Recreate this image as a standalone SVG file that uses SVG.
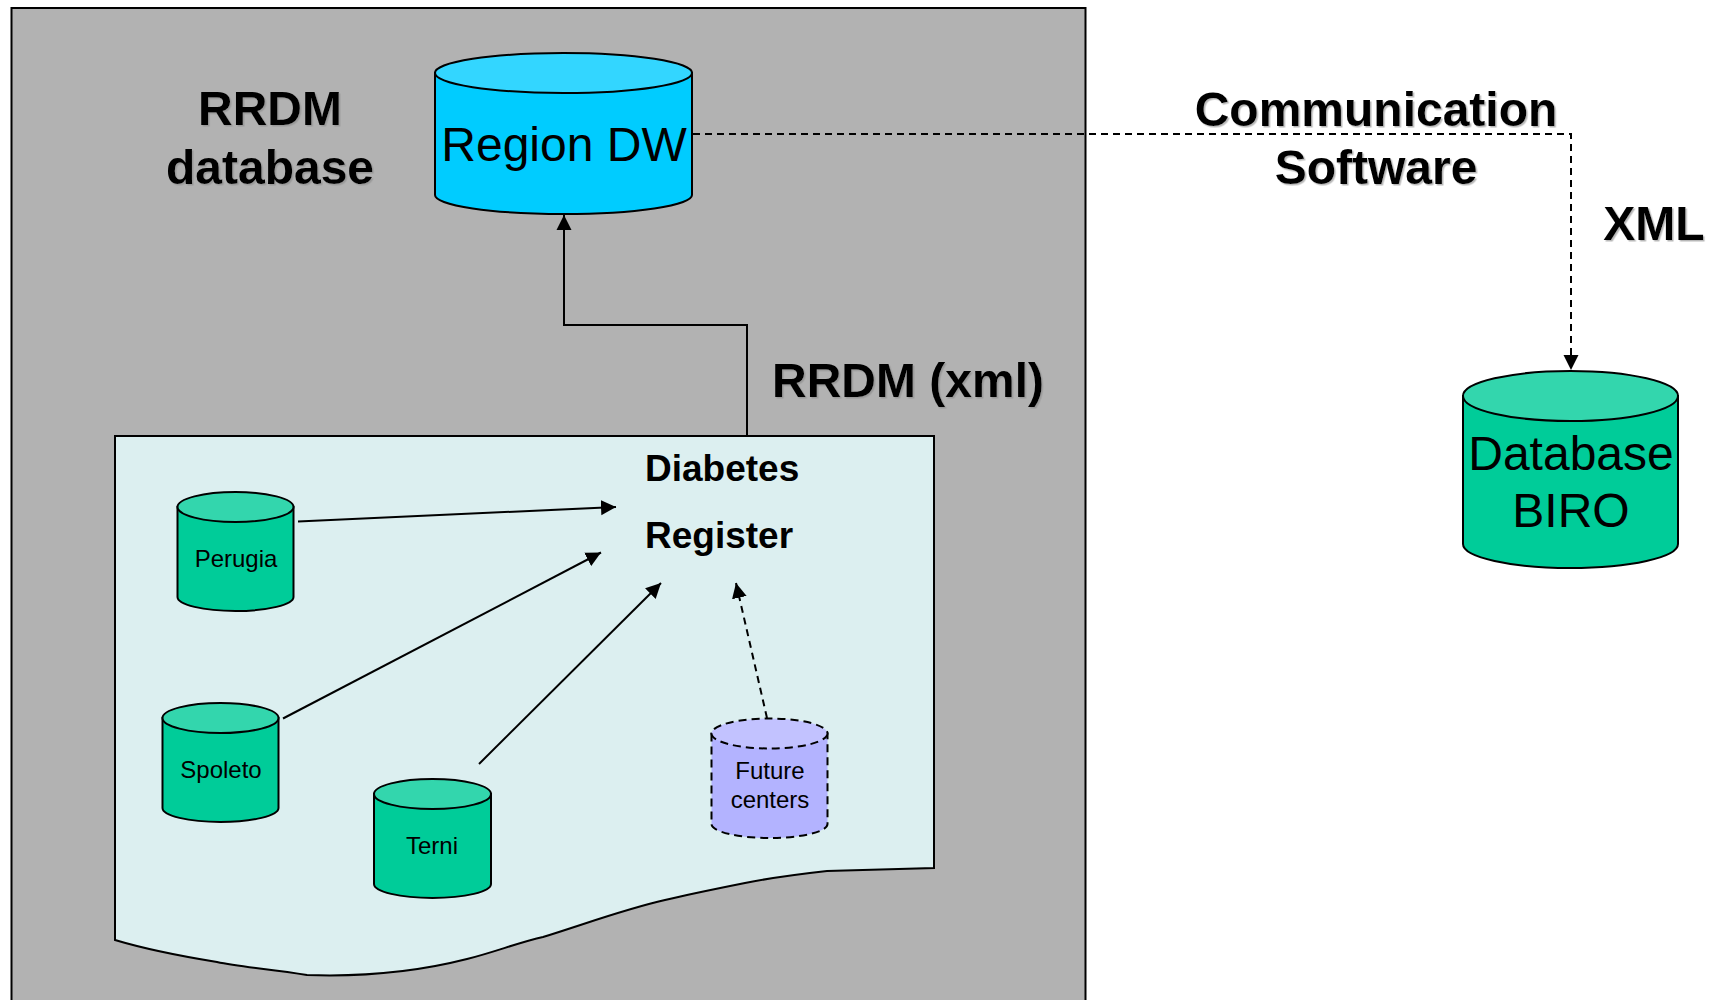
<svg xmlns="http://www.w3.org/2000/svg" width="1713" height="1000" viewBox="0 0 1713 1000">
<style>
text{font-family:"Liberation Sans",Arial,sans-serif;fill:#000;text-anchor:middle}
.h{font-weight:bold;font-size:48px;filter:url(#sh)}
.b{font-size:48px}
.s{font-size:24px}
.r{font-weight:bold;font-size:37px;text-anchor:start}
.body,.top{stroke:#000;stroke-width:2}
.g .body{fill:#00cc99}.g .top{fill:#33d6ad}
.c .body{fill:#00ccff}.c .top{fill:#33d6ff}
.p .body{fill:#b3b3ff;stroke-dasharray:8 5}.p .top{fill:#c2c2ff;stroke-dasharray:8 5}
.con{fill:none;stroke:#000;stroke-width:2;marker-end:url(#a)}
.d{stroke-dasharray:7 5}
</style>
<defs>
<filter id="sh" x="-5%" y="-5%" width="110%" height="115%"><feDropShadow dx="1.5" dy="1.5" stdDeviation="0.4" flood-color="#888" flood-opacity="0.6"/></filter>
<marker id="a" markerUnits="userSpaceOnUse" markerWidth="16" markerHeight="16" refX="15" refY="8" orient="auto"><path d="M0,0.5L15,8L0,15.5Z" fill="#000"/></marker>
</defs>
<rect width="1713" height="1000" fill="#fff"/>
<g id="rrdm-area"><rect x="11.500" y="8" width="1074" height="1010" fill="#b2b2b2" stroke="#000" stroke-width="2"/></g>
<g id="register">
<path d="M115,436H934V868L827,871C800,874 770,878 745,883C715,889 690,894 665,900C625,909 585,924 543,937C520,942 495,952 467,959C420,971 365,977 307,975C270,969 240,967 217,962C180,956 145,949 115,940Z" fill="#dceff0" stroke="#000" stroke-width="2"/>
<text class="r" x="645" y="481">Diabetes</text>
<text class="r" x="645" y="548">Register</text>
</g>
<g id="region-dw" class="c">
<path class="body" d="M435,73V195A128.500,19 0 0 0 692,195V73Z"/>
<ellipse class="top" cx="563.500" cy="73" rx="128.500" ry="20"/>
<text class="b" x="564" y="161">Region DW</text>
</g>
<g id="database-biro" class="g">
<path class="body" d="M1463,396V544A107.500,24 0 0 0 1678,544V396Z"/>
<ellipse class="top" cx="1570.500" cy="396" rx="107.500" ry="25"/>
<text class="b" x="1571" y="470">Database</text>
<text class="b" x="1571" y="527">BIRO</text>
</g>
<g id="perugia" class="g">
<path class="body" d="M177.500,507V597A58,14 0 0 0 293.500,597V507Z"/>
<ellipse class="top" cx="235.500" cy="507" rx="58" ry="15"/>
<text class="s" x="236" y="567">Perugia</text>
</g>
<g id="spoleto" class="g">
<path class="body" d="M162.500,718V808A58,14 0 0 0 278.500,808V718Z"/>
<ellipse class="top" cx="220.500" cy="718" rx="58" ry="15"/>
<text class="s" x="221" y="778">Spoleto</text>
</g>
<g id="terni" class="g">
<path class="body" d="M374,794V884A58.500,14 0 0 0 491,884V794Z"/>
<ellipse class="top" cx="432.500" cy="794" rx="58.500" ry="15"/>
<text class="s" x="432" y="854">Terni</text>
</g>
<g id="future-centers" class="p">
<path class="body" d="M711.500,733.500V824A58,14 0 0 0 827.500,824V733.500Z"/>
<ellipse class="top" cx="769.500" cy="733.500" rx="58" ry="15"/>
<text class="s" x="770" y="779">Future</text>
<text class="s" x="770" y="808">centers</text>
</g>
<g id="connectors">
<path class="con" d="M747,435V325H564V215"/>
<path class="con d" d="M693,134H1571V370"/>
<path class="con" d="M298,521.500L616,507"/>
<path class="con" d="M283,718.500L601,552.500"/>
<path class="con" d="M479,764L661,583"/>
<path class="con d" d="M767,718L736,583"/>
</g>
<g id="labels">
<text class="h" x="270" y="125">RRDM</text>
<text class="h" x="270" y="184">database</text>
<text class="h" x="908" y="397">RRDM (xml)</text>
<text class="h" x="1376" y="126">Communication</text>
<text class="h" x="1376" y="184">Software</text>
<text class="h" x="1654" y="240">XML</text>
</g>
</svg>
